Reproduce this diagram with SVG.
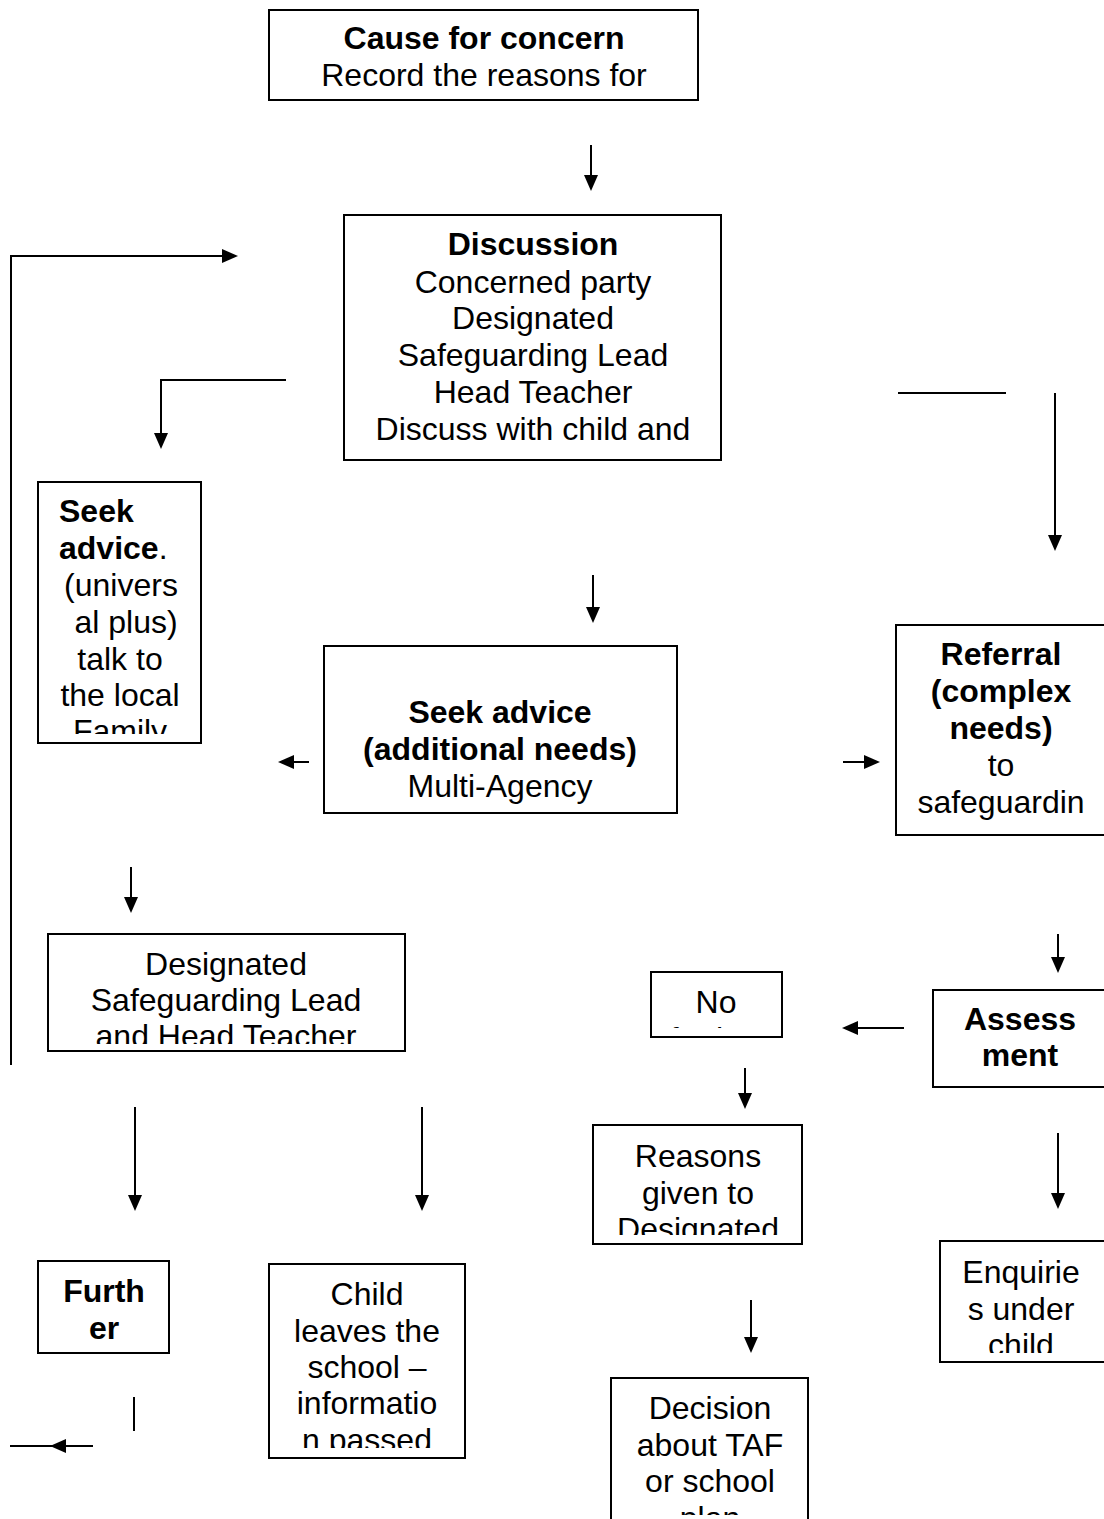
<svg xmlns="http://www.w3.org/2000/svg" width="1104" height="1519" viewBox="0 0 1104 1519">
<style>
.box{fill:#fff;stroke:#000;stroke-width:2}
.t{font-family:"Liberation Sans",Arial,sans-serif;font-size:32px;fill:#000;text-anchor:middle}
.l{text-anchor:start}
.b{font-weight:bold}
.ln{stroke:#000;stroke-width:2;fill:none}
.ah{fill:#000}
</style>
<defs>
<clipPath id="c1"><rect x="38" y="482" width="163" height="252"/></clipPath>
<clipPath id="c2"><rect x="48" y="934" width="357" height="110"/></clipPath>
<clipPath id="c3"><rect x="651" y="972" width="131" height="56"/></clipPath>
<clipPath id="c4"><rect x="593" y="1125" width="209" height="110"/></clipPath>
<clipPath id="c5"><rect x="269" y="1264" width="196" height="184"/></clipPath>
<clipPath id="c6"><rect x="940" y="1241" width="164" height="112"/></clipPath>
<clipPath id="c7"><rect x="611" y="1378" width="197" height="137"/></clipPath>
<clipPath id="c8"><rect x="896" y="625" width="208" height="210"/></clipPath>
</defs>

<g id="connectors">
<line class="ln" x1="591" y1="145" x2="591" y2="176"/><polygon class="ah" points="584,175 598,175 591,191"/>
<polyline class="ln" points="11,1065 11,256 224,256"/><polygon class="ah" points="222,249 222,263 238,256"/>
<polyline class="ln" points="286,380 161,380 161,434"/><polygon class="ah" points="154,433 168,433 161,449"/>
<line class="ln" x1="898" y1="393" x2="1006" y2="393"/>
<line class="ln" x1="1055" y1="393" x2="1055" y2="536"/><polygon class="ah" points="1048,535 1062,535 1055,551"/>
<line class="ln" x1="593" y1="575" x2="593" y2="608"/><polygon class="ah" points="586,607 600,607 593,623"/>
<line class="ln" x1="309" y1="762" x2="293" y2="762"/><polygon class="ah" points="294,755 294,769 278,762"/>
<line class="ln" x1="843" y1="762" x2="865" y2="762"/><polygon class="ah" points="864,755 864,769 880,762"/>
<line class="ln" x1="131" y1="867" x2="131" y2="898"/><polygon class="ah" points="124,897 138,897 131,913"/>
<line class="ln" x1="1058" y1="934" x2="1058" y2="958"/><polygon class="ah" points="1051,957 1065,957 1058,973"/>
<line class="ln" x1="904" y1="1028" x2="857" y2="1028"/><polygon class="ah" points="858,1021 858,1035 842,1028"/>
<line class="ln" x1="745" y1="1068" x2="745" y2="1094"/><polygon class="ah" points="738,1093 752,1093 745,1109"/>
<line class="ln" x1="135" y1="1107" x2="135" y2="1196"/><polygon class="ah" points="128,1195 142,1195 135,1211"/>
<line class="ln" x1="422" y1="1107" x2="422" y2="1196"/><polygon class="ah" points="415,1195 429,1195 422,1211"/>
<line class="ln" x1="1058" y1="1133" x2="1058" y2="1194"/><polygon class="ah" points="1051,1193 1065,1193 1058,1209"/>
<line class="ln" x1="751" y1="1300" x2="751" y2="1338"/><polygon class="ah" points="744,1337 758,1337 751,1353"/>
<line class="ln" x1="134" y1="1397" x2="134" y2="1431"/>
<line class="ln" x1="10" y1="1446" x2="93" y2="1446"/><polygon class="ah" points="66,1439 66,1453 50,1446"/>
</g>

<g id="cause">
<rect class="box" x="269" y="10" width="429" height="90"/>
<text class="t b" x="484" y="49">Cause for concern</text>
<text class="t" x="484" y="86">Record the reasons for</text>
</g>

<g id="discussion">
<rect class="box" x="344" y="215" width="377" height="245"/>
<text class="t b" x="533" y="255">Discussion</text>
<text class="t" x="533" y="293">Concerned party</text>
<text class="t" x="533" y="329">Designated</text>
<text class="t" x="533" y="366">Safeguarding Lead</text>
<text class="t" x="533" y="403">Head Teacher</text>
<text class="t" x="533" y="440">Discuss with child and</text>
</g>

<g id="seek-universal">
<rect class="box" x="38" y="482" width="163" height="261"/>
<g clip-path="url(#c1)">
<text class="t l b" x="59" y="522">Seek</text>
<text class="t l" x="59" y="559"><tspan font-weight="bold">advice</tspan>.</text>
<text class="t" x="121" y="596">(univers</text>
<text class="t" x="126" y="633">al plus)</text>
<text class="t" x="120" y="670">talk to</text>
<text class="t" x="120" y="706">the local</text>
<text class="t" x="120" y="742">Family</text>
</g>
</g>

<g id="seek-additional">
<rect class="box" x="324" y="646" width="353" height="167"/>
<text class="t b" x="500" y="723">Seek advice</text>
<text class="t b" x="500" y="760">(additional needs)</text>
<text class="t" x="500" y="797">Multi-Agency</text>
</g>

<g id="referral">
<rect class="box" x="896" y="625" width="212" height="210"/>
<g clip-path="url(#c8)">
<text class="t b" x="1001" y="665">Referral</text>
<text class="t b" x="1001" y="702">(complex</text>
<text class="t b" x="1001" y="739">needs)</text>
<text class="t" x="1001" y="776">to</text>
<text class="t" x="1001" y="813">safeguardin</text>
</g>
</g>

<g id="designated">
<rect class="box" x="48" y="934" width="357" height="117"/>
<g clip-path="url(#c2)">
<text class="t" x="226" y="975">Designated</text>
<text class="t" x="226" y="1011">Safeguarding Lead</text>
<text class="t" x="226" y="1047">and Head Teacher</text>
</g>
</g>

<g id="no">
<rect class="box" x="651" y="972" width="131" height="65"/>
<g clip-path="url(#c3)">
<text class="t" x="716" y="1013">No</text>
<text class="t" x="716" y="1050">further</text>
</g>
</g>

<g id="assessment">
<rect class="box" x="933" y="990" width="175" height="97"/>
<text class="t b" x="1020" y="1030">Assess</text>
<text class="t b" x="1020" y="1066">ment</text>
</g>

<g id="reasons">
<rect class="box" x="593" y="1125" width="209" height="119"/>
<g clip-path="url(#c4)">
<text class="t" x="698" y="1167">Reasons</text>
<text class="t" x="698" y="1204">given to</text>
<text class="t" x="698" y="1240">Designated</text>
</g>
</g>

<g id="further">
<rect class="box" x="38" y="1261" width="131" height="92"/>
<text class="t b" x="104" y="1302">Furth</text>
<text class="t b" x="104" y="1339">er</text>
</g>

<g id="child-leaves">
<rect class="box" x="269" y="1264" width="196" height="194"/>
<g clip-path="url(#c5)">
<text class="t" x="367" y="1305">Child</text>
<text class="t" x="367" y="1342">leaves the</text>
<text class="t" x="367" y="1378">school –</text>
<text class="t" x="367" y="1414">informatio</text>
<text class="t" x="367" y="1451">n passed</text>
</g>
</g>

<g id="enquiries">
<rect class="box" x="940" y="1241" width="168" height="121"/>
<g clip-path="url(#c6)">
<text class="t" x="1021" y="1283">Enquirie</text>
<text class="t" x="1021" y="1320">s under</text>
<text class="t" x="1021" y="1356">child</text>
</g>
</g>

<g id="decision">
<rect class="box" x="611" y="1378" width="197" height="145"/>
<g clip-path="url(#c7)">
<text class="t" x="710" y="1419">Decision</text>
<text class="t" x="710" y="1456">about TAF</text>
<text class="t" x="710" y="1492">or school</text>
<text class="t" x="710" y="1529">plan</text>
</g>
</g>
</svg>
